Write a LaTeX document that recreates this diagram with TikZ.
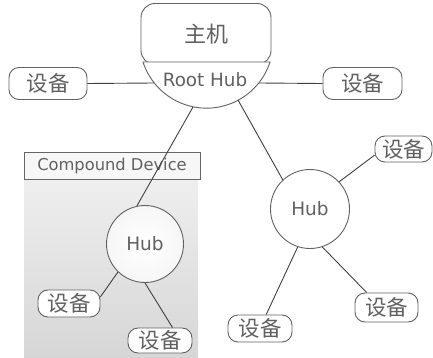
\documentclass[tikz,border=0pt]{standalone}
\usepackage{fontspec}
\setmainfont{DejaVu Sans}
\newfontfamily\cjk{Noto Sans CJK SC}
\begin{document}
\begin{tikzpicture}[x=1pt,y=-1pt,
  edgecol/.style={draw=black!62, line width=0.9pt},
  devbox/.style={edgecol, rounded corners=10pt, fill=white, inner sep=0pt,
    text=black!62, font=\cjk\fontsize{21.5}{21.5}\selectfont},
  hubnode/.style={edgecol, circle, fill=white, inner sep=0pt,
    text=black!62, font=\fontsize{18.5}{18.5}\selectfont},
  link/.style={draw=black!75, line width=0.9pt}]
\useasboundingbox (0,0) rectangle (433,358);

% compound device area
\fill[top color=gray!13, bottom color=gray!32] (24,178) rectangle (198,358);
\node[draw=black!60, line width=1pt, fill=gray!6, minimum width=176,
  minimum height=26, inner sep=0pt, text=black!62,
  font=\fontsize{16.3}{16.3}\selectfont] (cdlabel) at (112,166) {Compound Device};

% host with its root hub
\node[devbox, rounded corners=14pt, minimum width=130, minimum height=61,
  font=\cjk\fontsize{22}{22}\selectfont] (host) at (206,34) {主机};
\draw[edgecol, fill=white] (143,62) arc[start angle=198, end angle=342, radius=66.8pt] -- cycle;
\node[inner sep=0pt, text=black!62, font=\fontsize{18.3}{18.3}\selectfont]
  (roothub) at (205,80) {Root Hub};
\coordinate (rhL) at (154,83);
\coordinate (rhR) at (259,83);
\coordinate (rhA) at (193,107);
\coordinate (rhB) at (238,100);

% devices on the root hub
\node[devbox, minimum width=78, minimum height=32] (devL) at (48,83.5) {设备};
\node[devbox, minimum width=79, minimum height=32] (devR) at (362.5,83.5) {设备};

% hubs
\node[hubnode, minimum size=77, inner color=white, outer color=gray!7] (chub) at (145,244) {Hub};
\node[hubnode, minimum size=79] (rhub) at (310,209) {Hub};

% devices on the hubs
\node[devbox, minimum width=57, minimum height=26] (d3) at (403.5,149) {设备};
\node[devbox, minimum width=64, minimum height=27] (d4) at (260,328.5) {设备};
\node[devbox, minimum width=63, minimum height=29] (d5) at (386.5,307.5) {设备};
\node[devbox, minimum width=62, minimum height=27] (c1) at (69,303.5) {设备};
\node[devbox, minimum width=64, minimum height=25] (c2) at (160,340.5) {设备};

% connectors
\draw[link] (devL.east) -- (rhL);
\draw[link] (rhR) -- (devR.west);
\draw[link] (rhA) -- (chub.102);
\draw[link] (rhB) -- (rhub.133);
\draw[link] (rhub.43) -- (d3.192);
\draw[link] (rhub.252) -- (d4.66);
\draw[link] (rhub.288) -- (d5.143);
\draw[link] (chub.226) -- (c1.12);
\draw[link] (chub.270) -- (c2.46);
\end{tikzpicture}
\end{document}
